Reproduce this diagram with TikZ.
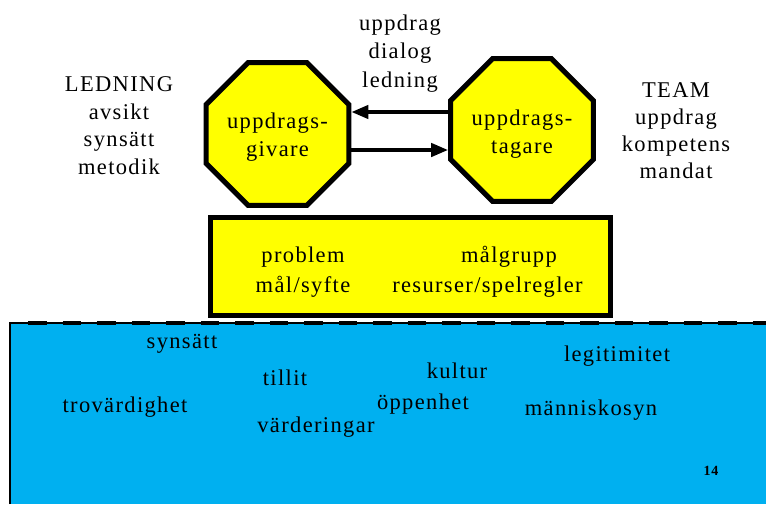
\documentclass[tikz,border=0pt]{standalone}
\usepackage{fontspec}
\setmainfont{Liberation Serif}[LetterSpace=6]
\usetikzlibrary{shapes.geometric,arrows.meta}
\definecolor{sea}{RGB}{0,176,240}
\definecolor{sun}{RGB}{255,255,0}
\begin{document}
\begin{tikzpicture}[x=1pt,y=-1pt,
  txt/.style={font=\fontsize{22.5}{27.5}\selectfont, inner sep=0pt, align=center},
  octa/.style={shape=regular polygon, regular polygon sides=8, minimum size=146pt,
    fill=sun, draw=black, line width=5pt, inner sep=0pt, txt},
  panel/.style={shape=rectangle, minimum width=400pt, minimum height=98pt,
    fill=sun, draw=black, line width=5pt},
  arr/.style={line width=4pt, -{Triangle[length=17pt,width=13pt]}},
  word/.style={txt, anchor=base}]
\useasboundingbox (0,0) rectangle (766,504);

% sea
\fill[sea] (10,323) rectangle (766,504);
\draw[line width=1.2pt] (10,504) -- (10,323) -- (766,323);
\draw[line width=4.5pt, dash pattern=on 18.5pt off 16pt, dash phase=18.7pt] (12.5,323) -- (766,323);

% octagons
\node[octa] (L) at (277.5,134) {\rule{0pt}{22pt}uppdrags-\\givare};
\node[octa] (R) at (522,130) {\rule{0pt}{24pt}uppdrags-\\tagare};
\draw[arr] (R.west |- 0,112) -- (L.east |- 0,112);
\draw[arr] (L.east |- 0,150) -- (R.west |- 0,150);

% side texts
\node[word, font=\fontsize{22.5}{28.5}\selectfont] (top) at (400,87) {uppdrag\\dialog\\ledning};
\node[word] (led) at (119,174) {LEDNING\\avsikt\\synsätt\\metodik};
\node[word, font=\fontsize{22.5}{26.8}\selectfont] (team) at (676,178) {TEAM\\uppdrag\\kompetens\\mandat};

% panel
\node[panel] (P) at (410.5,266.5) {};
\node[word, font=\fontsize{22.5}{30}\selectfont] (p1) at (303,292) {problem\\mål/syfte};
\node[word] (p2) at (509,262) {målgrupp};
\node[word] (p3) at (487.5,292) {resurser/spelregler};

% words in the sea
\node[word] (w1) at (182,348) {synsätt};
\node[word] (w2) at (617,361) {legitimitet};
\node[word] (w3) at (285,385) {tillit};
\node[word] (w4) at (457,378) {kultur};
\node[word] (w5) at (125,412) {trovärdighet};
\node[word] (w6) at (423,409) {öppenhet};
\node[word] (w7) at (591,415) {människosyn};
\node[word] (w8) at (316,432) {värderingar};
\node[font=\fontsize{14}{16}\selectfont\bfseries, inner sep=0pt, anchor=base] (pg) at (711,475) {14};
\end{tikzpicture}
\end{document}
